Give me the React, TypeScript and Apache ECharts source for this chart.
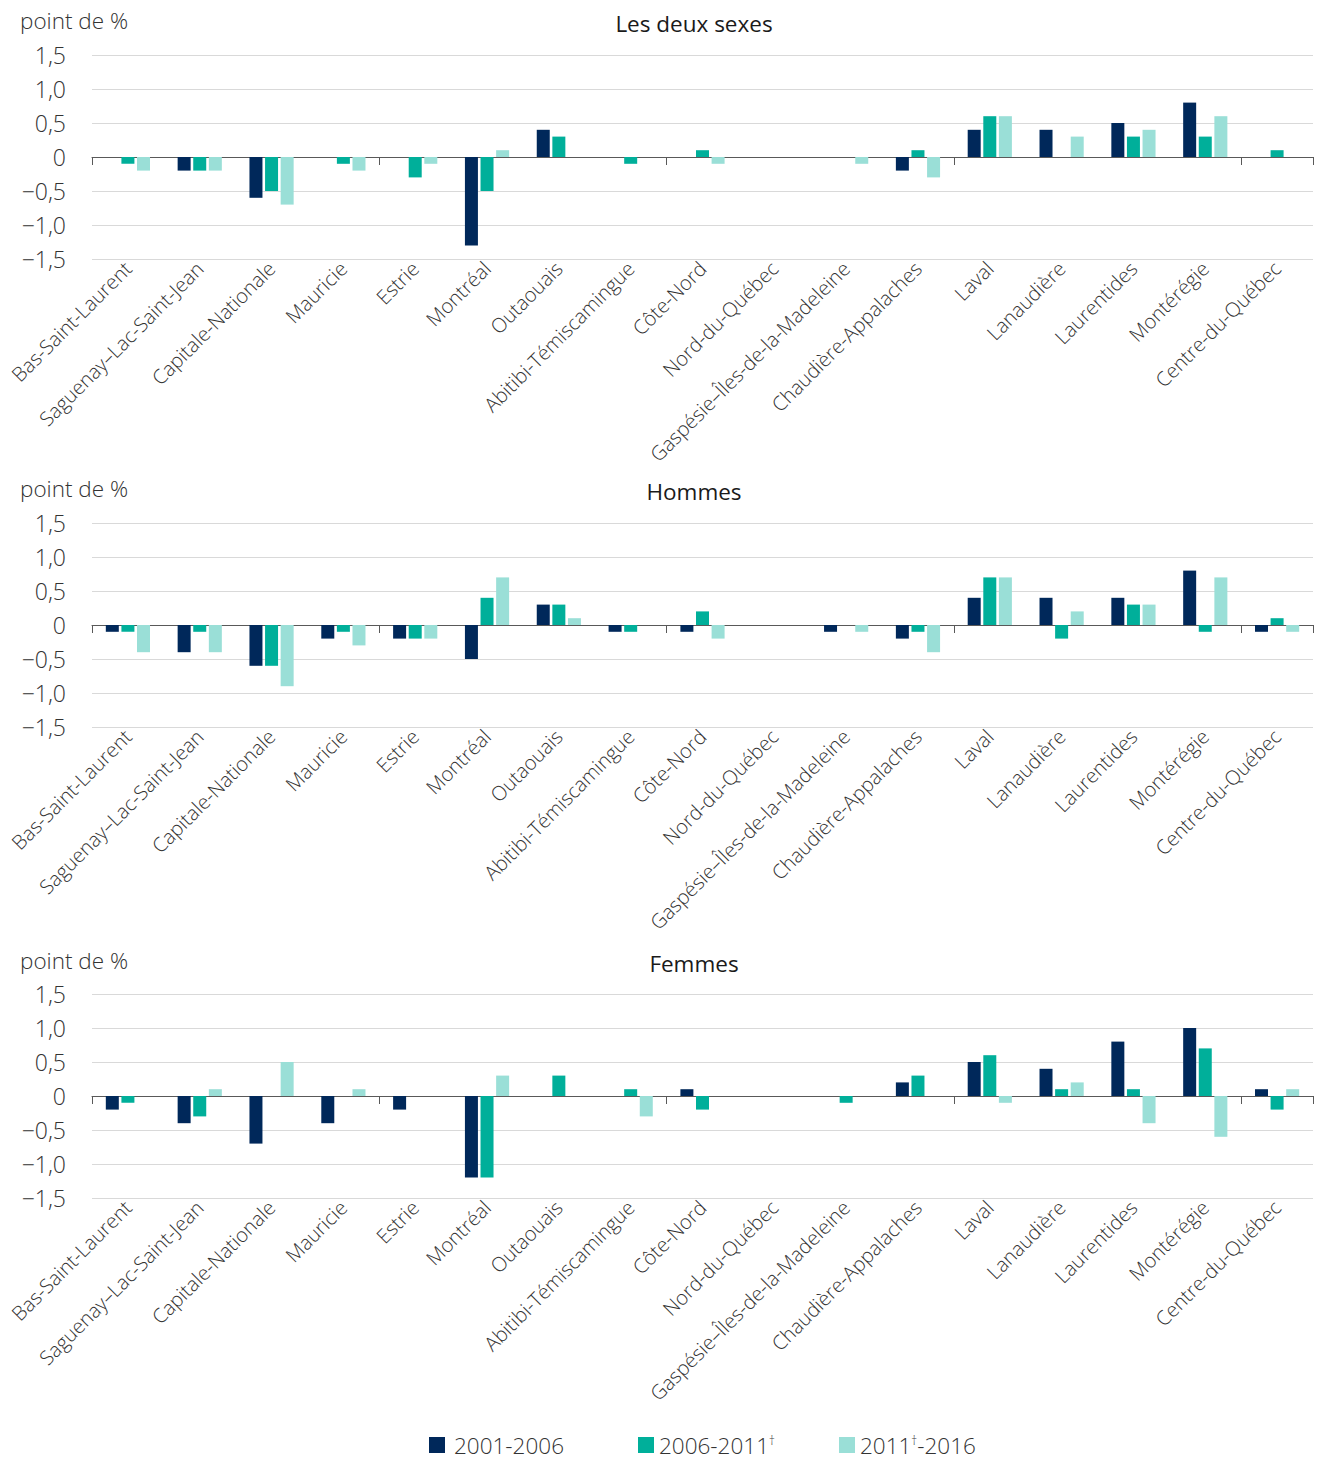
import React, { useEffect, useRef } from "react";
import * as echarts from "echarts";

const regions = [
  "Bas-Saint-Laurent",
  "Saguenay–Lac-Saint-Jean",
  "Capitale-Nationale",
  "Mauricie",
  "Estrie",
  "Montréal",
  "Outaouais",
  "Abitibi-Témiscamingue",
  "Côte-Nord",
  "Nord-du-Québec",
  "Gaspésie–Îles-de-la-Madeleine",
  "Chaudière-Appalaches",
  "Laval",
  "Lanaudière",
  "Laurentides",
  "Montérégie",
  "Centre-du-Québec",
];

const periods = ["2001-2006", "2006-2011†", "2011†-2016"];
const panelTitles = ["Les deux sexes", "Hommes", "Femmes"];
const yTicks = [-1.5, -1, -0.5, 0, 0.5, 1, 1.5];

// Les deux sexes
const both2001 = [0, -0.2, -0.6, 0, 0, -1.3, 0.4, 0, 0, 0, 0, -0.2, 0.4, 0.4, 0.5, 0.8, 0];
const both2006 = [-0.1, -0.2, -0.5, -0.1, -0.3, -0.5, 0.3, -0.1, 0.1, 0, 0, 0.1, 0.6, 0, 0.3, 0.3, 0.1];
const both2011 = [-0.2, -0.2, -0.7, -0.2, -0.1, 0.1, 0, 0, -0.1, 0, -0.1, -0.3, 0.6, 0.3, 0.4, 0.6, 0];

// Hommes
const men2001 = [-0.1, -0.4, -0.6, -0.2, -0.2, -0.5, 0.3, -0.1, -0.1, 0, -0.1, -0.2, 0.4, 0.4, 0.4, 0.8, -0.1];
const men2006 = [-0.1, -0.1, -0.6, -0.1, -0.2, 0.4, 0.3, -0.1, 0.2, 0, 0, -0.1, 0.7, -0.2, 0.3, -0.1, 0.1];
const men2011 = [-0.4, -0.4, -0.9, -0.3, -0.2, 0.7, 0.1, 0, -0.2, 0, -0.1, -0.4, 0.7, 0.2, 0.3, 0.7, -0.1];

// Femmes
const women2001 = [-0.2, -0.4, -0.7, -0.4, -0.2, -1.2, 0, 0, 0.1, 0, 0, 0.2, 0.5, 0.4, 0.8, 1.0, 0.1];
const women2006 = [-0.1, -0.3, 0, 0, 0, -1.2, 0.3, 0.1, -0.2, 0, -0.1, 0.3, 0.6, 0.1, 0.1, 0.7, -0.2];
const women2011 = [0, 0.1, 0.5, 0.1, 0, 0.3, 0, -0.3, 0, 0, 0, 0, -0.1, 0.2, -0.4, -0.6, 0.1];

const panelData = [
  [both2001, both2006, both2011],
  [men2001, men2006, men2011],
  [women2001, women2006, women2011],
];

const colors = ["#00285A", "#00AF9A", "#9ADFD7"];
const FONT = "'Open Sans', 'Noto Sans', sans-serif";

export default function App() {
  const ref = useRef<HTMLDivElement>(null);

  useEffect(() => {
    document.body.style.margin = "0";
    if (!ref.current) return;
    const chart = echarts.init(ref.current, undefined, { renderer: "svg" });

    const gridTops = [55, 523, 994];
    const gridHeight = 204;
    const panelOffsets = [0, 468, 940];

    const grids = gridTops.map((t) => ({ left: 92, right: 5, top: t, height: gridHeight }));

    const xAxes: any[] = [];
    const yAxes: any[] = [];
    const series: any[] = [];

    gridTops.forEach((_, k) => {
      // label axis at the bottom of the grid
      xAxes.push({
        type: "category",
        gridIndex: k,
        data: regions,
        position: "bottom",
        axisLine: { show: false, onZero: false },
        axisTick: { show: false },
        axisLabel: {
          interval: 0,
          rotate: 45,
          margin: 6,
          fontFamily: FONT,
          fontWeight: 300,
          fontSize: 20,
          color: "#333333",
        },
        splitLine: { show: false },
      });
      // axis line on zero with ticks
      xAxes.push({
        type: "category",
        gridIndex: k,
        data: regions,
        position: "bottom",
        axisLine: { show: true, onZero: true, lineStyle: { color: "#595959", width: 1 } },
        axisTick: { show: true, length: 8, lineStyle: { color: "#595959" } },
        axisLabel: { show: false },
        splitLine: { show: false },
      });
      yAxes.push({
        type: "value",
        gridIndex: k,
        min: yTicks[0],
        max: yTicks[yTicks.length - 1],
        interval: 0.5,
        axisLine: { show: false },
        axisTick: { show: false },
        splitLine: { show: true, lineStyle: { color: "#d9d9d9", width: 1 } },
        axisLabel: {
          margin: 26,
          fontFamily: FONT,
          fontWeight: 300,
          fontSize: 23,
          color: "#333333",
          formatter: (v: number) =>
            v === 0 ? "0" : v.toFixed(1).replace(".", ",").replace("-", "−"),
        },
      });
      panelData[k].forEach((vals, j) => {
        series.push({
          type: "bar",
          name: periods[j],
          xAxisIndex: 2 * k,
          yAxisIndex: k,
          data: vals,
          barWidth: 13,
          barGap: "20%",
          itemStyle: { color: colors[j] },
        });
      });
    });

    const graphics: any[] = [];
    panelOffsets.forEach((off, k) => {
      graphics.push({
        type: "text",
        x: 20,
        y: 20 + off,
        style: {
          text: "point de %",
          fontFamily: FONT,
          fontWeight: 300,
          fontSize: 22.5,
          fill: "#333333",
          textAlign: "left",
          textVerticalAlign: "middle",
        },
      });
      graphics.push({
        type: "text",
        x: 694,
        y: 23 + off,
        style: {
          text: panelTitles[k],
          fontFamily: FONT,
          fontWeight: 400,
          fontSize: 22.5,
          fill: "#1a1a1a",
          textAlign: "center",
          textVerticalAlign: "middle",
        },
      });
    });

    const legendLefts = [429, 638, 839];
    const legends = periods.map((p, j) => ({
      data: [p],
      left: legendLefts[j],
      top: 1433,
      padding: 0,
      itemWidth: 16,
      itemHeight: 16,
      icon: "rect",
      selectedMode: false,
      textStyle: {
        fontFamily: FONT,
        fontWeight: 300,
        fontSize: 22.5,
        lineHeight: 24,
        color: "#333333",
        padding: [0, 0, 0, j === 0 ? 4 : 0],
        rich: {
          sup: {
            fontFamily: FONT,
            fontWeight: 300,
            fontSize: 12,
            lineHeight: 12,
            color: "#333333",
            padding: [0, 0, 10, 0],
          },
        },
      },
      formatter: (name: string) => name.replace("†", "{sup|†}"),
    }));

    chart.setOption({
      animation: false,
      backgroundColor: "#ffffff",
      grid: grids,
      xAxis: xAxes,
      yAxis: yAxes,
      series,
      graphic: graphics,
      legend: legends,
    });

    return () => chart.dispose();
  }, []);

  return <div ref={ref} style={{ width: 1318, height: 1459, overflow: "hidden" }} />;
}
